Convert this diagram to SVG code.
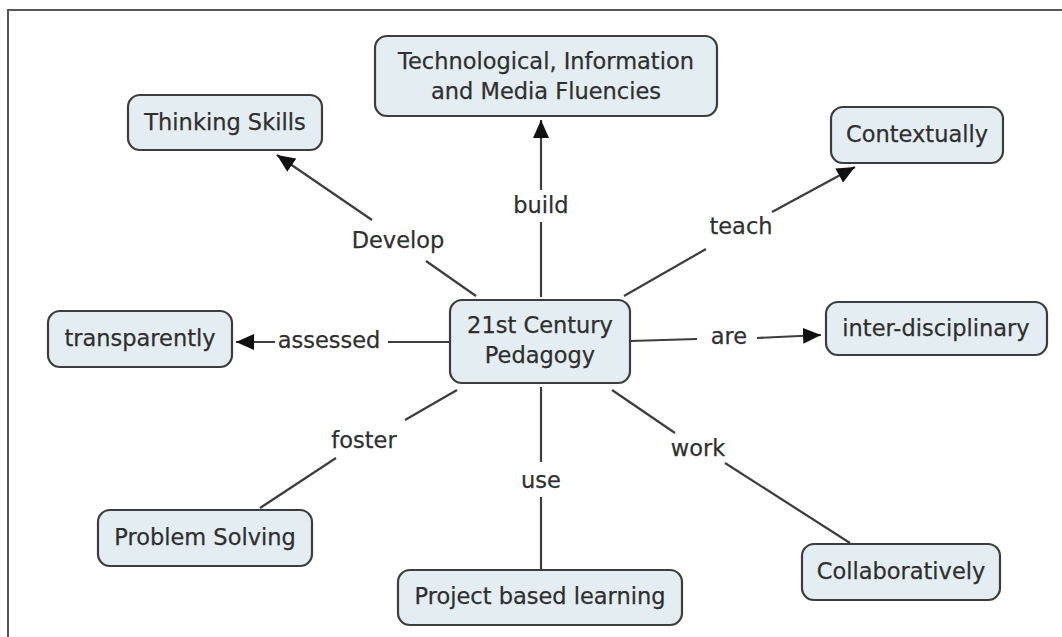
<svg xmlns="http://www.w3.org/2000/svg" width="1062" height="637" viewBox="0 0 1062 637">
<style>
.node rect{fill:#e4edf1;stroke:#3d3d3d;stroke-width:2.2}
text{font-family:"DejaVu Sans","Liberation Sans",sans-serif;font-size:22.5px;fill:#2f2f2f;text-anchor:middle;stroke:#2f2f2f;stroke-width:0.25}
.conn line{stroke:#3d3d3d;stroke-width:2.2}
</style>
<defs>
<marker id="ah" markerUnits="userSpaceOnUse" markerWidth="18" markerHeight="16" refX="18" refY="8" orient="auto">
<path d="M0,0 L18,8 L0,16 z" fill="#111"/>
</marker>
</defs>
<rect x="0" y="0" width="1062" height="637" fill="#fff"/>
<path d="M8,637 V10 H1062" fill="none" stroke="#555" stroke-width="2"/>
<g class="conn" id="connectors">
<line x1="476" y1="296" x2="426" y2="261"/>
<line x1="372" y1="220" x2="277" y2="155" marker-end="url(#ah)"/>
<line x1="541" y1="297" x2="541" y2="222"/>
<line x1="541" y1="190" x2="541" y2="120" marker-end="url(#ah)"/>
<line x1="624" y1="296" x2="706" y2="249"/>
<line x1="772" y1="212" x2="855" y2="167" marker-end="url(#ah)"/>
<line x1="450" y1="342" x2="388" y2="342"/>
<line x1="275" y1="342" x2="236" y2="342" marker-end="url(#ah)"/>
<line x1="630" y1="341" x2="697" y2="339"/>
<line x1="757" y1="338" x2="821" y2="335" marker-end="url(#ah)"/>
<line x1="457" y1="390" x2="405" y2="420"/>
<line x1="336" y1="458" x2="260" y2="508"/>
<line x1="541" y1="387" x2="541" y2="462"/>
<line x1="541" y1="497" x2="541" y2="570"/>
<line x1="612" y1="390" x2="675" y2="433"/>
<line x1="725" y1="463" x2="850" y2="543"/>
<text x="398" y="248">Develop</text>
<text x="541" y="213">build</text>
<text x="741" y="234">teach</text>
<text x="329" y="348">assessed</text>
<text x="729" y="344">are</text>
<text x="364" y="448">foster</text>
<text x="541" y="488">use</text>
<text x="698" y="456">work</text>
</g>
<g class="node" id="n-center"><rect x="450" y="300" width="180" height="83" rx="12"/><text x="540" y="333">21st Century</text><text x="540" y="363">Pedagogy</text></g>
<g class="node" id="n-thinking"><rect x="128" y="95" width="194" height="55" rx="12"/><text x="225" y="130">Thinking Skills</text></g>
<g class="node" id="n-tech"><rect x="375" y="36" width="342" height="80" rx="12"/><text x="546" y="69">Technological, Information</text><text x="546" y="99">and Media Fluencies</text></g>
<g class="node" id="n-context"><rect x="831" y="107" width="172" height="56" rx="12"/><text x="917" y="142">Contextually</text></g>
<g class="node" id="n-transp"><rect x="48" y="311" width="184" height="56" rx="12"/><text x="140" y="346">transparently</text></g>
<g class="node" id="n-inter"><rect x="826" y="302" width="221" height="53" rx="12"/><text x="936" y="336">inter-disciplinary</text></g>
<g class="node" id="n-problem"><rect x="98" y="510" width="214" height="56" rx="12"/><text x="205" y="545">Problem Solving</text></g>
<g class="node" id="n-project"><rect x="398" y="570" width="284" height="55" rx="12"/><text x="540" y="604">Project based learning</text></g>
<g class="node" id="n-collab"><rect x="802" y="544" width="198" height="56" rx="12"/><text x="901" y="579">Collaboratively</text></g>
</svg>
